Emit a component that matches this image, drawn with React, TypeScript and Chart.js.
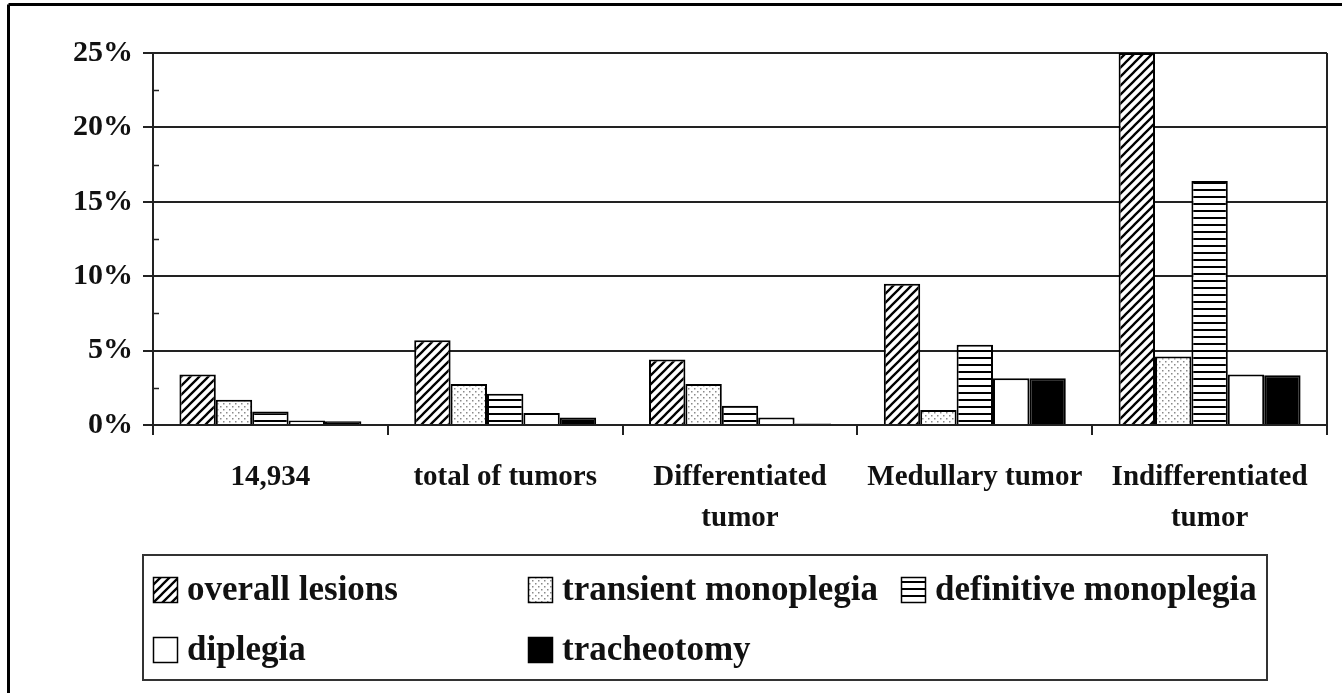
import React, { useEffect, useRef } from "react";
import { Chart, registerables } from "chart.js";

Chart.register(...registerables);

// ---- data ----
const categories: string[][] = [
  ["14,934"],
  ["total of tumors"],
  ["Differentiated", "tumor"],
  ["Medullary tumor"],
  ["Indifferentiated", "tumor"],
];
const seriesNames = [
  "overall lesions",
  "transient monoplegia",
  "definitive monoplegia",
  "diplegia",
  "tracheotomy",
];
const overallLesions = [3.4, 5.7, 4.4, 9.5, 25];
const transientMonoplegia = [1.7, 2.75, 2.75, 1.0, 4.6];
const definitiveMonoplegia = [0.9, 2.1, 1.3, 5.4, 16.4];
const diplegia = [0.3, 0.8, 0.5, 3.15, 3.4];
const tracheotomy = [0.25, 0.5, 0.1, 3.15, 3.35];
const yMin = 0;
const yMax = 25;
const yStep = 5;
const yMinorStep = 2.5;

const FONT = '"Liberation Serif", "Times New Roman", serif';

type PatternKind = "diag" | "dots" | "hlines" | "white" | "black";
const patternKinds: PatternKind[] = ["diag", "dots", "hlines", "white", "black"];

function makePattern(kind: PatternKind): CanvasPattern | string {
  if (kind === "white") return "#ffffff";
  if (kind === "black") return "#000000";
  const c = document.createElement("canvas");
  const ctx = c.getContext("2d")!;
  if (kind === "diag") {
    const s = 9;
    c.width = s;
    c.height = s;
    ctx.fillStyle = "#fff";
    ctx.fillRect(0, 0, s, s);
    ctx.strokeStyle = "#000";
    ctx.lineWidth = 2.3;
    ctx.beginPath();
    ctx.moveTo(0, s);
    ctx.lineTo(s, 0);
    ctx.moveTo(-2, 2);
    ctx.lineTo(2, -2);
    ctx.moveTo(s - 2, s + 2);
    ctx.lineTo(s + 2, s - 2);
    ctx.stroke();
  } else if (kind === "dots") {
    c.width = 6;
    c.height = 6;
    ctx.fillStyle = "#fff";
    ctx.fillRect(0, 0, 6, 6);
    ctx.fillStyle = "#8a8a8a";
    ctx.fillRect(1, 1, 1.5, 1.5);
    ctx.fillRect(4, 4, 1.5, 1.5);
  } else if (kind === "hlines") {
    c.width = 4;
    c.height = 7;
    ctx.fillStyle = "#fff";
    ctx.fillRect(0, 0, 4, 7);
    ctx.fillStyle = "#000";
    ctx.fillRect(0, 0, 4, 2);
  }
  return ctx.createPattern(c, "repeat")!;
}

const decorPlugin = {
  id: "decor",
  afterDraw(chart: any) {
    const ctx: CanvasRenderingContext2D = chart.ctx;
    const area = chart.chartArea;
    const yScale = chart.scales.y;
    ctx.save();
    // outer frame (top and left)
    ctx.strokeStyle = "#000";
    ctx.lineWidth = 3;
    ctx.beginPath();
    ctx.moveTo(8.5, 4.5);
    ctx.lineTo(chart.width, 4.5);
    ctx.moveTo(8.5, 4.5);
    ctx.lineTo(8.5, chart.height);
    ctx.stroke();

    // right border of plot
    ctx.strokeStyle = "#222";
    ctx.lineWidth = 2;
    ctx.beginPath();
    ctx.moveTo(area.right, area.top);
    ctx.lineTo(area.right, area.bottom);
    ctx.stroke();

    // minor ticks inside y axis
    ctx.lineWidth = 1.5;
    ctx.beginPath();
    for (let v = yMinorStep; v < yMax; v += yStep) {
      const py = Math.round(yScale.getPixelForValue(v)) + 0.5;
      ctx.moveTo(area.left, py);
      ctx.lineTo(area.left + 6, py);
    }
    ctx.stroke();

    // legend box
    const boxL = 143, boxT = 555, boxR = 1267, boxB = 680;
    ctx.strokeStyle = "#333";
    ctx.lineWidth = 2;
    ctx.strokeRect(boxL, boxT, boxR - boxL, boxB - boxT);
    const colX = [153, 528, 901];
    const rowY = [590, 650];
    ctx.font = `bold 35px ${FONT}`;
    ctx.textBaseline = "middle";
    ctx.textAlign = "left";
    chart.data.datasets.forEach((ds: any, i: number) => {
      const col = i < 3 ? i : i - 3;
      const row = i < 3 ? 0 : 1;
      const x = colX[col];
      const cy = rowY[row];
      const sw = 25, sh = 26;
      ctx.fillStyle = ds.backgroundColor;
      ctx.fillRect(x, cy - sh / 2, sw, sh);
      ctx.strokeStyle = "#000";
      ctx.lineWidth = 1.5;
      ctx.strokeRect(x + 0.5, cy - sh / 2 + 0.5, sw - 1, sh - 1);
      ctx.fillStyle = "#111";
      ctx.fillText(ds.label, x + sw + 9, cy + 1);
    });
    ctx.restore();
  },
};

export default function App() {
  const ref = useRef<HTMLCanvasElement | null>(null);
  useEffect(() => {
    if (!ref.current) return;
    const values = [overallLesions, transientMonoplegia, definitiveMonoplegia, diplegia, tracheotomy];
    const datasets = seriesNames.map((name, i) => ({
      label: name,
      data: values[i],
      backgroundColor: makePattern(patternKinds[i]) as any,
      borderColor: "#000",
      borderWidth: 2,
      borderSkipped: "bottom" as const,
      categoryPercentage: 0.775,
      barPercentage: 1.0,
    }));
    const chart = new Chart(ref.current, {
      type: "bar",
      data: { labels: categories as any, datasets },
      options: {
        responsive: false,
        animation: false,
        layout: { padding: { top: 53, right: 15, left: 0, bottom: 0 } },
        plugins: {
          legend: { display: false },
          tooltip: { enabled: false },
          title: { display: false },
        },
        scales: {
          x: {
            grid: {
              display: true,
              offset: true,
              drawOnChartArea: false,
              drawTicks: true,
              tickLength: 10,
              color: "#222",
              lineWidth: 2,
            },
            border: { display: true, color: "#222", width: 2 },
            ticks: {
              color: "#111",
              padding: 23,
              maxRotation: 0,
              autoSkip: false,
              font: { family: FONT, size: 29, weight: "bold", lineHeight: 1.38 },
            },
            afterFit: (scale: any) => {
              scale.height = 268;
            },
          },
          y: {
            min: yMin,
            max: yMax,
            grid: {
              color: "#222",
              lineWidth: 2,
              tickLength: 10,
            },
            border: { display: true, color: "#222", width: 2 },
            ticks: {
              stepSize: yStep,
              color: "#111",
              padding: 10,
              font: { family: FONT, size: 30, weight: "bold" },
              callback: (v: any) => `${v}%`,
            },
            afterFit: (scale: any) => {
              scale.width = 153;
            },
          },
        },
      },
      plugins: [decorPlugin],
    });
    return () => chart.destroy();
  }, []);
  return (
    <div style={{ position: "absolute", left: 0, top: 0, width: 1342, height: 693, background: "#fff" }}>
      <canvas ref={ref} width={1342} height={693} style={{ display: "block" }} />
    </div>
  );
}
